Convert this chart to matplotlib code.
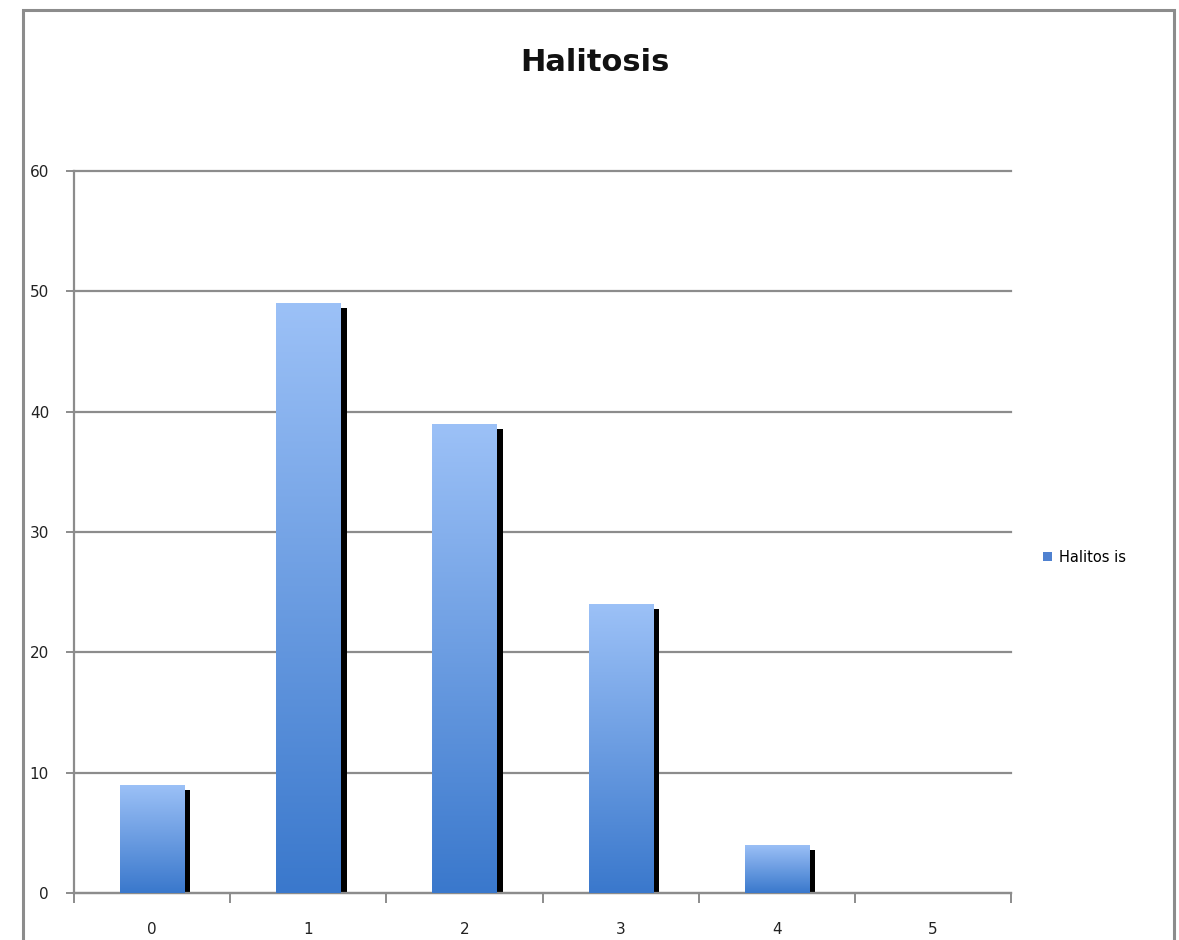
import matplotlib.pyplot as plt
import numpy as np
from matplotlib.patches import Rectangle
from matplotlib.colors import LinearSegmentedColormap

categories = ["0", "1", "2", "3", "4", "5"]
values = [9, 49, 39, 24, 4, 0]
title = "Halitosis"
legend_label = "Halitos is"

fig = plt.figure(figsize=(11.79, 9.4), dpi=100)
ax = fig.add_axes([0.0628, 0.05, 0.7947, 0.768])

# outer chart border
fig.patches.append(Rectangle((23 / 1179, -0.05), (1174 - 23) / 1179, 1.05 - 10 / 940,
                             transform=fig.transFigure, fill=False,
                             edgecolor="#8c8c8c", linewidth=2.2))

x = np.arange(len(categories))
w = 0.41
grad = np.linspace(0, 1, 256).reshape(-1, 1)
cmap = LinearSegmentedColormap.from_list("bar", ["#3a78cc", "#9cc1f7"])

for xi, v in zip(x, values):
    if v <= 0:
        continue
    # shadow
    ax.bar(xi + w / 2 + 0.005, v - 0.4, width=0.035, align="edge", color="black", zorder=2)
    bar = ax.bar(xi, v, width=w, color="none", zorder=3)[0]
    im = ax.imshow(grad, cmap=cmap, aspect="auto", origin="lower",
                   extent=[xi - w / 2, xi + w / 2, 0, v], zorder=3)
    im.set_clip_path(bar)

ax.bar([0], [0], color="#4f81d0", label=legend_label)

ax.set_xlim(-0.5, 5.5)
ax.set_ylim(0, 60)
ax.set_yticks(range(0, 61, 10))
ax.yaxis.grid(True, color="#8c8c8c", linewidth=1.6)
for gl in ax.get_ygridlines():
    gl.set_clip_on(False)
ax.set_axisbelow(True)
for s in ["top", "right"]:
    ax.spines[s].set_visible(False)
ax.spines["left"].set_color("#8c8c8c")
ax.spines["bottom"].set_color("#8c8c8c")
ax.spines["left"].set_linewidth(1.6)
ax.spines["bottom"].set_linewidth(1.6)

ax.set_xticks(np.arange(-0.5, 6.0, 1.0))
ax.set_xticklabels([])
ax.set_xticks(x, minor=True)
ax.set_xticklabels(categories, minor=True)
ax.tick_params(axis="x", which="major", length=7, color="#8c8c8c", width=1.4)
ax.tick_params(axis="x", which="minor", length=0, pad=21, labelsize=11, labelcolor="#222222")
ax.tick_params(axis="y", length=6, color="#8c8c8c", width=1.4, pad=12, labelsize=11,
               labelcolor="#222222")

fig.text(0.505, 0.934, title, ha="center", va="center", fontsize=22, fontweight="bold",
         color="#111111")

ax.legend(loc="center left", bbox_to_anchor=(1.02, 0.465), frameon=False, fontsize=10.5,
          handlelength=0.6, handleheight=0.6, handletextpad=0.5)

fig.savefig("out.png", dpi=100)
